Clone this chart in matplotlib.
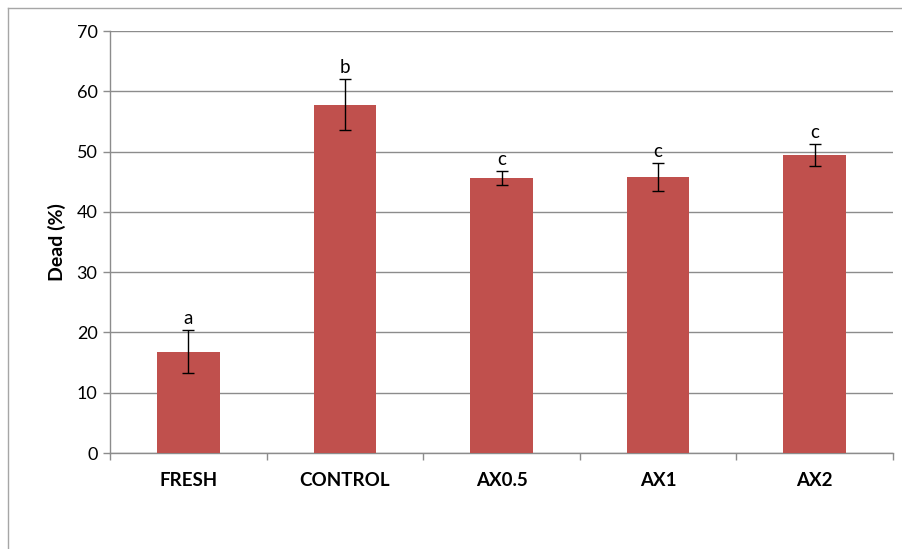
import numpy as np
import matplotlib.pyplot as plt
from matplotlib.lines import Line2D

categories = ['FRESH', 'CONTROL', 'AX0.5', 'AX1', 'AX2']
dead = [16.8, 57.8, 45.6, 45.8, 49.4]
err = [3.6, 4.2, 1.2, 2.3, 1.85]
letters = ['a', 'b', 'c', 'c', 'c']

plt.rcParams['font.family'] = ['Lato', 'DejaVu Sans']

fig = plt.figure(figsize=(9.03, 5.49), dpi=100)
ax = fig.add_axes([110 / 903, 96 / 549, 783 / 903, 422 / 549])

x = np.arange(len(categories))
ax.bar(x, dead, width=0.4, color='#C0504D', zorder=3)
ax.errorbar(x, dead, yerr=err, fmt='none', ecolor='black', elinewidth=1,
            capsize=4, capthick=1, zorder=4)

for xi, v, e, lab in zip(x, dead, err, letters):
    ax.text(xi, v + e + 0.5, lab, ha='center', va='bottom', fontsize=13.5)

ax.set_xlim(-0.5, len(categories) - 0.5)
ax.set_ylim(0, 70)
ax.set_yticks(range(0, 71, 10))
ax.yaxis.grid(True, color='#8c8c8c', linewidth=1, zorder=0)
ax.set_axisbelow(True)

ax.set_xticks(x)
ax.set_xticklabels(categories, fontweight='bold', fontsize=13.5)
ax.set_xticks(np.arange(-0.5, len(categories)), minor=True)
ax.tick_params(axis='x', which='major', length=0, pad=14)
ax.tick_params(axis='x', which='minor', length=5, color='#8c8c8c', width=1)
ax.tick_params(axis='y', length=5, color='#8c8c8c', width=1, labelsize=13, pad=4)
ax.set_ylabel('Dead (%)', fontweight='bold', fontsize=14, labelpad=8)

for s in ['top', 'right']:
    ax.spines[s].set_visible(False)
for s in ['left', 'bottom']:
    ax.spines[s].set_color('#8c8c8c')
    ax.spines[s].set_linewidth(1)

# outer chart frame
fig.add_artist(Line2D([8 / 903, 8 / 903], [0, 541 / 549], color='#a6a6a6', linewidth=1))
fig.add_artist(Line2D([8 / 903, 1], [541 / 549, 541 / 549], color='#a6a6a6', linewidth=1))

fig.savefig('out.png', dpi=100)
